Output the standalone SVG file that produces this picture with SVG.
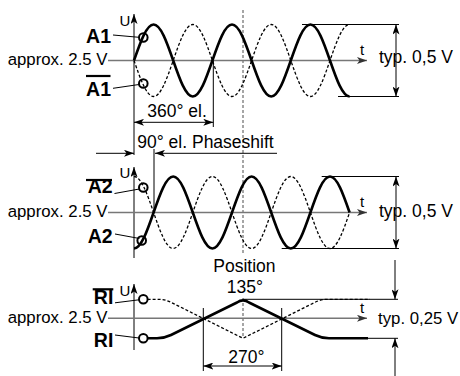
<svg xmlns="http://www.w3.org/2000/svg" width="460" height="376" viewBox="0 0 460 376">
<style>
text{font-family:"Liberation Sans",Arial,sans-serif;fill:#000}
.t{font-size:17.5px}
.ap{font-size:16.8px}
.s{font-size:15px}
.b{font-size:19.5px;font-weight:bold}
.ax{stroke:#000;stroke-width:1;fill:none}
.base{stroke:#777;stroke-width:1.6;fill:none}
.thin{stroke:#000;stroke-width:1;fill:none}
.sol{stroke:#000;stroke-width:2.6;fill:none;stroke-linejoin:round}
.dsh{stroke:#000;stroke-width:1.3;fill:none;stroke-dasharray:3 2}
.vd{stroke:#777;stroke-width:1.3;fill:none;stroke-dasharray:3 2}
.ol{stroke:#000;stroke-width:2.2}
.cir{stroke:#000;stroke-width:2;fill:none}
</style>
<defs>
<marker id="ah" markerUnits="userSpaceOnUse" markerWidth="10" markerHeight="7" refX="10" refY="3.5" orient="auto-start-reverse">
<path d="M0,0 L10,3.5 L0,7 L2.5,3.5 z" fill="#000"/>
</marker>
<marker id="ag" markerUnits="userSpaceOnUse" markerWidth="10" markerHeight="7" refX="10" refY="3.5" orient="auto">
<path d="M0,0 L10,3.5 L0,7 L2.5,3.5 z" fill="#333"/>
</marker>
</defs>

<g id="connectors">
<path class="vd" d="M243,10 V253 M243,298 V337"/>
<path class="ax" d="M134,155 V14" marker-end="url(#ah)"/>
<path class="base" d="M108,60.5 H367" marker-end="url(#ag)"/>
<path class="ax" d="M134,258 V167" marker-end="url(#ah)"/>
<path class="base" d="M108,212.5 H367" marker-end="url(#ag)"/>
<path class="ax" d="M134,350 V284" marker-end="url(#ah)"/>
<path class="base" d="M108,318.3 H367" marker-end="url(#ag)"/>
<path class="thin" d="M213.3,60.5 V127"/>
<path class="thin" d="M134,122.3 H213.3" marker-start="url(#ah)" marker-end="url(#ah)"/>
<path class="thin" d="M96,153.3 H134" marker-end="url(#ah)"/>
<path class="thin" d="M277,153.3 H155" marker-end="url(#ah)"/>
<path class="thin" d="M154,149 V212.5"/>
<path class="thin" d="M302,24.5 H399 M338,96.5 H399"/>
<path class="thin" d="M396,24.5 V96.5" marker-start="url(#ah)" marker-end="url(#ah)"/>
<path class="thin" d="M321.7,176.5 H399 M281.7,248.5 H399"/>
<path class="thin" d="M396,176.5 V248.5" marker-start="url(#ah)" marker-end="url(#ah)"/>
<path class="thin" d="M243,299.3 H398 M330,338.3 H398"/>
<path class="thin" d="M395,260 V299.3" marker-end="url(#ah)"/>
<path class="thin" d="M395,376 V338.3" marker-end="url(#ah)"/>
<path class="thin" d="M203.3,308 V371 M281.7,308 V371"/>
<path class="thin" d="M203.3,366 H281.7" marker-start="url(#ah)" marker-end="url(#ah)"/>
<path class="thin" d="M113,35 L139,37.3 M113,88.3 L139,84.5 M114.5,193.5 L139.3,189 M115,234 L139.5,238.5 M115,302.8 L139,299.8 M115,335 L139,338"/>
</g>

<g id="wave-a1">
<path class="sol" d="M134,60.5 c6.39,-18.44 12.51,-36 19.6,-36 s13.21,17.56 19.6,36 s12.51,36 19.6,36 s13.21,-17.56 19.6,-36 s12.51,-36 19.6,-36 s13.21,17.56 19.6,36 s12.51,36 19.6,36 s13.21,-17.56 19.6,-36 s12.51,-36 19.6,-36 s13.21,17.56 19.6,36 s12.51,36 19.6,36"/>
<circle class="cir" cx="143.3" cy="37.5" r="4.3"/>
<text class="b" x="111" y="42.7" text-anchor="end">A1</text>
</g>
<g id="wave-a1bar">
<path class="dsh" d="M134,60.5 c6.39,18.44 12.51,36 19.6,36 s13.21,-17.56 19.6,-36 s12.51,-36 19.6,-36 s13.21,17.56 19.6,36 s12.51,36 19.6,36 s13.21,-17.56 19.6,-36 s12.51,-36 19.6,-36 s13.21,17.56 19.6,36 s12.51,36 19.6,36 s13.21,-17.56 19.6,-36 s12.51,-36 19.6,-36"/>
<circle class="cir" cx="143.3" cy="83.5" r="4.3"/>
<text class="b" x="111" y="96" text-anchor="end">A1</text>
<line class="ol" x1="86" y1="76" x2="110.5" y2="76"/>
</g>
<g id="label-s1">
<text class="ap" x="107.5" y="65" text-anchor="end">approx. 2.5 V</text>
<text class="s" x="119.5" y="26">U</text>
<text class="s" x="360" y="55">t</text>
<text class="t" x="379" y="63.3">typ. 0,5 V</text>
<text class="t" x="147.3" y="116.7">360° el.</text>
<text class="t" x="137.3" y="148.3">90° el. Phaseshift</text>
</g>

<g id="wave-a2">
<path class="sol" d="M134,248.5 c7.09,0 13.21,-17.56 19.6,-36 s12.51,-36 19.6,-36 s13.21,17.56 19.6,36 s12.51,36 19.6,36 s13.21,-17.56 19.6,-36 s12.51,-36 19.6,-36 s13.21,17.56 19.6,36 s12.51,36 19.6,36 s13.21,-17.56 19.6,-36 s12.51,-36 19.6,-36 s13.21,17.56 19.6,36"/>
<circle class="cir" cx="141.7" cy="240.5" r="4.3"/>
<text class="b" x="112.7" y="243.3" text-anchor="end">A2</text>
</g>
<g id="wave-a2bar">
<path class="dsh" d="M134,176.5 c7.09,0 13.21,17.56 19.6,36 s12.51,36 19.6,36 s13.21,-17.56 19.6,-36 s12.51,-36 19.6,-36 s13.21,17.56 19.6,36 s12.51,36 19.6,36 s13.21,-17.56 19.6,-36 s12.51,-36 19.6,-36 s13.21,17.56 19.6,36 s12.51,36 19.6,36 s13.21,-17.56 19.6,-36"/>
<circle class="cir" cx="143.3" cy="187.5" r="4.3"/>
<text class="b" x="112.7" y="193.3" text-anchor="end">A2</text>
<line class="ol" x1="86" y1="180" x2="112" y2="180"/>
</g>
<g id="label-s2">
<text class="ap" x="107.5" y="217.3" text-anchor="end">approx. 2.5 V</text>
<text class="s" x="119.5" y="177.5">U</text>
<text class="s" x="360" y="207">t</text>
<text class="t" x="379" y="216.7">typ. 0,5 V</text>
</g>

<g id="wave-ri">
<path class="sol" d="M147.6,338.3 H157 Q164,338.3 171,335 L237,302.5 Q243,298.3 249,302.5 L315,335 Q322,338.3 329,338.3 H368"/>
<circle class="cir" cx="143.3" cy="338.3" r="4.3"/>
<text class="b" x="113.3" y="346.7" text-anchor="end">RI</text>
</g>
<g id="wave-ribar">
<path class="dsh" d="M147.6,299.3 H159 Q165,299.3 171,302.3 L243,338.3 L315,302.3 Q321,299.3 327,299.3 H370"/>
<circle class="cir" cx="143.3" cy="299.3" r="4.3"/>
<text class="b" x="113.3" y="304.3" text-anchor="end">RI</text>
<line class="ol" x1="92.7" y1="289.3" x2="113.3" y2="289.3"/>
</g>
<g id="label-s3">
<text class="ap" x="107.5" y="323.3" text-anchor="end">approx. 2.5 V</text>
<text class="s" x="119.5" y="296">U</text>
<text class="s" x="360" y="313">t</text>
<text class="ap" x="378" y="324">typ. 0,25 V</text>
<text class="t" x="213.3" y="272.3">Position</text>
<text class="t" x="226.7" y="293.3">135°</text>
<text class="t" x="228.3" y="363.3">270°</text>
</g>
</svg>
